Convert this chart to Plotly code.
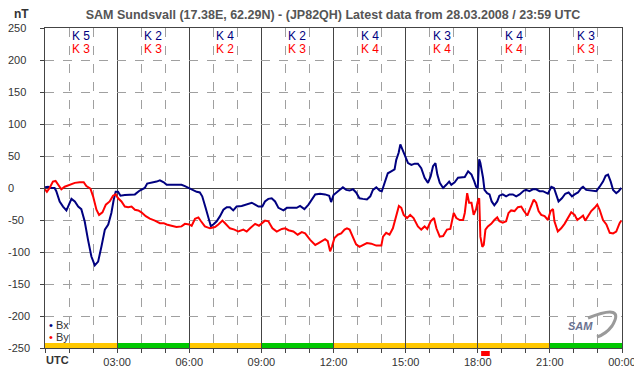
import plotly.graph_objects as go

# ---- data (hours UTC, nT) ----
bx_t = [0, 0.13, 0.26, 0.40, 0.47, 0.61, 0.75, 0.89, 0.96, 1.10, 1.24, 1.38, 1.51, 1.65, 1.79, 1.93, 2.07, 2.21,
        2.35, 2.49, 2.63, 2.76, 2.86, 2.94, 3.04, 3.14, 3.32, 3.53, 3.74, 3.94, 4.15, 4.25, 4.43, 4.64, 4.78, 4.94,
        5.06, 5.26, 5.47, 5.68, 5.82, 6.0, 6.17, 6.31, 6.44, 6.54, 6.68, 6.82, 6.90, 7.0, 7.14, 7.28, 7.42, 7.56,
        7.69, 7.83, 7.97, 8.18, 8.39, 8.60, 8.74, 8.88, 9.04, 9.15, 9.29, 9.43, 9.57, 9.71, 9.92, 10.06, 10.26,
        10.47, 10.61, 10.79, 10.96, 11.10, 11.24, 11.44, 11.65, 11.82, 11.90, 12.0, 12.11, 12.25, 12.39, 12.53,
        12.67, 12.81, 12.94, 13.08, 13.22, 13.39, 13.53, 13.64, 13.78, 13.92, 14.01, 14.13, 14.26, 14.40, 14.54,
        14.61, 14.71, 14.78, 14.86, 14.96, 15.10, 15.24, 15.38, 15.51, 15.65, 15.79, 15.93, 16.04, 16.14, 16.24,
        16.32, 16.42, 16.56, 16.69, 16.81, 16.90, 17.04, 17.18, 17.36, 17.46, 17.60, 17.74, 17.86, 17.93, 18.0,
        18.06, 18.11, 18.17, 18.22, 18.28, 18.39, 18.49, 18.58, 18.69, 18.81, 18.90, 19.04, 19.18, 19.32, 19.46,
        19.60, 19.74, 19.92, 20.01, 20.15, 20.29, 20.43, 20.57, 20.71, 20.92, 21.06, 21.17, 21.26, 21.36, 21.50,
        21.64, 21.78, 21.92, 22.03, 22.17, 22.31, 22.38, 22.51, 22.65, 22.79, 22.93, 23.07, 23.21, 23.32, 23.42,
        23.53, 23.63, 23.76, 23.86, 23.97]
bx_v = [1, 2, 0, 0, -5, -21, -29, -35, -29, -17, -21, -29, -33, -52, -81, -107, -121, -115,
        -91, -65, -57, -39, -18, -6, -6, -12, -11, -11, -10, -4, 0, 7, 8, 10, 12, 9,
        5, 5, 5, 5, 3, 0, -4, -6, -7, -13, -31, -49, -60, -57, -52, -44, -34, -30,
        -30, -35, -29, -28, -26, -23, -26, -29, -29, -21, -17, -16, -21, -31, -35, -31, -31,
        -31, -28, -33, -26, -18, -10, -9, -10, -12, -22, -11, -7, -3, 1, -3,
        -4, -2, -7, -16, -17, -18, -13, -3, 1, -4, -5, 8, 23, 26, 29,
        44, 55, 68, 60, 52, 39, 36, 38, 38, 31, 16, 8, 18, 34, 39,
        21, 8, 0, 5, 10, 5, 9, 16, 16, 17, 26, 21, 10, 2, 0,
        45, 39, 29, 16, -3, -8, -10, -21, -27, -21, -12, -10, -13, -10, -10,
        -13, -10, -4, -3, -5, -2, -2, -5, -5, -9, 2, 0, -10, -21, -16,
        -9, -7, -13, -10, -7, 0, 2, -3, -4, -4, -5, 2, 10, 19, 21,
        10, -3, -8, -5, 0]

by_t = [0, 0.08, 0.19, 0.33, 0.44, 0.54, 0.68, 0.82, 1.03, 1.24, 1.44, 1.61, 1.72, 1.89, 2.0, 2.14, 2.25, 2.39,
        2.53, 2.69, 2.83, 2.94, 3.04, 3.18, 3.32, 3.46, 3.60, 3.74, 3.88, 4.01, 4.19, 4.36, 4.57, 4.78, 4.94, 5.06,
        5.26, 5.47, 5.68, 5.82, 6.0, 6.10, 6.24, 6.38, 6.49, 6.65, 6.86, 7.07, 7.21, 7.38, 7.49, 7.69, 7.88, 8.04,
        8.25, 8.39, 8.53, 8.74, 8.90, 9.04, 9.15, 9.29, 9.46, 9.64, 9.85, 9.99, 10.13, 10.33, 10.51, 10.68, 10.82,
        11.03, 11.24, 11.38, 11.51, 11.65, 11.76, 11.86, 11.94, 12.04, 12.18, 12.32, 12.46, 12.56, 12.67, 12.81,
        12.94, 13.08, 13.22, 13.39, 13.57, 13.78, 13.99, 14.06, 14.19, 14.33, 14.47, 14.61, 14.72, 14.82, 14.92,
        15.06, 15.19, 15.33, 15.51, 15.65, 15.79, 15.90, 16.04, 16.18, 16.28, 16.42, 16.56, 16.72, 16.86, 17.0,
        17.11, 17.25, 17.39, 17.46, 17.56, 17.64, 17.74, 17.83, 17.93, 18.0, 18.06, 18.11, 18.19, 18.25, 18.32,
        18.42, 18.56, 18.69, 18.81, 18.90, 19.04, 19.18, 19.28, 19.39, 19.53, 19.67, 19.81, 19.92, 20.06, 20.19,
        20.33, 20.43, 20.53, 20.64, 20.78, 20.92, 21.03, 21.13, 21.19, 21.33, 21.47, 21.61, 21.75, 21.89, 22.03,
        22.14, 22.28, 22.38, 22.47, 22.58, 22.72, 22.86, 22.97, 23.07, 23.21, 23.35, 23.49, 23.63, 23.76, 23.90,
        23.97]
by_v = [-2, -6, 0, 10, 11, 5, -2, 2, 5, 8, 9, 9, 3, -1, -13, -34, -42, -38,
        -26, -21, -12, -10, -16, -21, -29, -30, -29, -34, -35, -38, -44, -48, -51, -55, -55, -57,
        -59, -61, -60, -56, -57, -59, -48, -46, -52, -60, -63, -61, -57, -51, -55, -63, -65, -68,
        -65, -68, -63, -56, -59, -55, -51, -52, -63, -68, -64, -63, -66, -68, -73, -69, -71,
        -81, -89, -86, -83, -80, -83, -99, -91, -78, -73, -71, -65, -63, -65, -76,
        -88, -92, -89, -86, -87, -90, -90, -76, -70, -73, -63, -42, -28, -31, -42,
        -47, -42, -47, -60, -65, -60, -64, -52, -47, -63, -76, -75, -65, -64, -39,
        -47, -50, -50, -39, -8, -23, -23, -42, -33, -21, -16, -76, -92, -89, -65,
        -60, -56, -50, -46, -52, -54, -52, -39, -35, -36, -30, -29, -36, -43, -31,
        -18, -23, -36, -42, -44, -50, -36, -33, -52, -68, -63, -56, -47, -38, -42,
        -50, -46, -43, -51, -44, -36, -31, -26, -34, -50, -57, -70, -71, -68, -55,
        -51]

k_centers = [1.5, 4.5, 7.5, 10.5, 13.5, 16.5, 19.5, 22.5]
k_bx = [5, 2, 4, 2, 4, 3, 4, 3]
k_by = [3, 3, 2, 3, 4, 4, 4, 3]

status_start = [0, 3, 6, 9, 12, 21]
status_end = [3, 6, 9, 12, 21, 24]
status_color = ["#FFC800", "#00C800", "#FFC800", "#00C800", "#FFC800", "#00C800"]

alert_start, alert_end = 18.14, 18.5

x_tick_vals = [0, 3, 6, 9, 12, 15, 18, 21, 24]
x_tick_text = ["", "03:00", "06:00", "09:00", "12:00", "15:00", "18:00", "21:00", "00:00"]
y_tick_vals = [250, 200, 150, 100, 50, 0, -50, -100, -150, -200, -250]

BX_COL = "#000080"
BY_COL = "#FF0000"
AX_COL = "#444444"
TXT_COL = "#333333"
FONT = "Liberation Sans, Arial, sans-serif"

# page offset of the figure (browser body margin) and target plot area in page pixels
OFF = 8
PAGE_W, PAGE_H = 642, 376
L, R, T, B = 45, 622, 28, 348
W, H = R - L, B - T


def dx(px):
    return (px - L) / W


def dy(py):
    return (B - py) / H


fig = go.Figure()
fig.add_trace(go.Scatter(x=bx_t, y=bx_v, mode="lines", line=dict(color=BX_COL, width=2), name="Bx"))
fig.add_trace(go.Scatter(x=by_t, y=by_v, mode="lines", line=dict(color=BY_COL, width=2), name="By"))

shapes = []
for s, e, c in zip(status_start, status_end, status_color):
    shapes.append(dict(type="rect", xref="x", yref="y", x0=s, x1=e, y0=-250, y1=-242,
                       fillcolor=c, line=dict(width=0), layer="below"))
shapes.append(dict(type="rect", xref="x", yref="paper", x0=alert_start, x1=alert_end, y0=dy(356), y1=dy(351),
                   fillcolor="#FF0000", line=dict(width=0)))
# logo swoosh
shapes.append(dict(type="path", xref="paper", yref="paper",
                   path=f"M {dx(588)},{dy(318)} Q {dx(626)},{dy(303)} {dx(612)},{dy(326)} "
                        f"Q {dx(606)},{dy(334)} {dx(597)},{dy(337)}",
                   line=dict(color="#9A9A9A", width=3)))

annotations = []
for xc, a, b in zip(k_centers, k_bx, k_by):
    annotations.append(dict(x=xc, y=dy(36), xref="x", yref="paper", text=f"K {a}", showarrow=False,
                            font=dict(family=FONT, size=12, color=BX_COL), yanchor="middle"))
    annotations.append(dict(x=xc, y=dy(49), xref="x", yref="paper", text=f"K {b}", showarrow=False,
                            font=dict(family=FONT, size=12, color=BY_COL), yanchor="middle"))

# y tick labels (left aligned as in the original)
for v in y_tick_vals:
    annotations.append(dict(xref="paper", yref="y", x=dx(6), y=v, text=str(v), showarrow=False,
                            xanchor="left", yanchor="middle", font=dict(family=FONT, size=11, color=TXT_COL)))

annotations.append(dict(xref="paper", yref="paper", x=dx(44), y=dy(360), text="<b>UTC</b>", showarrow=False,
                        xanchor="left", yanchor="middle", font=dict(family=FONT, size=11, color=TXT_COL)))
annotations.append(dict(xref="paper", yref="paper", x=dx(21), y=dy(14.5), text="<b>nT</b>", showarrow=False,
                        xanchor="center", yanchor="middle", font=dict(family=FONT, size=12, color=TXT_COL)))
annotations.append(dict(xref="paper", yref="paper", x=dx(47), y=dy(325),
                        text=f'<span style="color:{BX_COL}">•</span> Bx', showarrow=False,
                        xanchor="left", yanchor="middle", font=dict(family=FONT, size=11, color=TXT_COL)))
annotations.append(dict(xref="paper", yref="paper", x=dx(47), y=dy(337),
                        text=f'<span style="color:{BY_COL}">•</span> By', showarrow=False,
                        xanchor="left", yanchor="middle", font=dict(family=FONT, size=11, color=TXT_COL)))
annotations.append(dict(xref="paper", yref="paper", x=dx(580), y=dy(326),
                        text="<b><i>SAM</i></b>", showarrow=False, xanchor="center", yanchor="middle",
                        font=dict(family=FONT, size=11, color="#6A7290")))

fig_w, fig_h = PAGE_W - OFF, PAGE_H - OFF
fig.update_layout(
    template="none",
    width=fig_w, height=fig_h,
    margin=dict(l=L - OFF, r=PAGE_W - R, t=T - OFF, b=PAGE_H - B, pad=0, autoexpand=False),
    paper_bgcolor="white", plot_bgcolor="white",
    showlegend=False,
    title=dict(text="<b>SAM Sundsvall (17.38E, 62.29N) - (JP82QH) Latest data from 28.03.2008 / 23:59 UTC</b>",
               x=(333 - OFF) / fig_w, xanchor="center", y=1 - (15 - OFF) / fig_h, yanchor="middle",
               font=dict(family=FONT, size=12.5, color="#555555")),
    shapes=shapes, annotations=annotations,
    font=dict(family=FONT, size=11, color=TXT_COL),
)
fig.update_xaxes(range=[0, 24], tickvals=x_tick_vals, ticktext=x_tick_text, ticks="outside", ticklen=4,
                 tickcolor=AX_COL, showline=True, linecolor=AX_COL, linewidth=1, mirror=True, automargin=False,
                 showgrid=True, gridcolor=AX_COL, gridwidth=1, zeroline=False,
                 minor=dict(dtick=1, ticks="outside", ticklen=4, tickcolor=AX_COL, showgrid=True,
                            gridcolor="#A0A0A0", griddash="dash", gridwidth=1),
                 tickfont=dict(family=FONT, size=11, color=TXT_COL))
fig.update_yaxes(range=[-250, 250], dtick=50, ticks="outside", ticklen=4, tickcolor=AX_COL,
                 showticklabels=False,
                 showline=True, linecolor=AX_COL, linewidth=1, mirror=True, automargin=False,
                 showgrid=True, gridcolor="#A0A0A0", griddash="dash", gridwidth=1,
                 zeroline=True, zerolinecolor=AX_COL, zerolinewidth=1)

fig.write_html("out.html")
